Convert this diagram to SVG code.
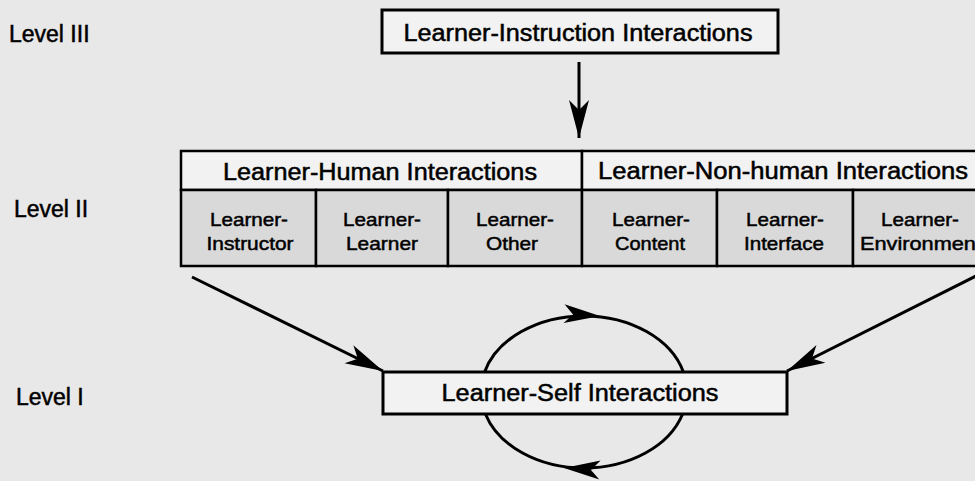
<svg xmlns="http://www.w3.org/2000/svg" width="975" height="481" viewBox="0 0 975 481">
<style>
text{font-family:"Liberation Sans",Arial,sans-serif;fill:#000;stroke:#000;stroke-width:0.5}
.lvl{font-size:23px}
.big{font-size:23px;text-anchor:middle}
.sub{font-size:19px;text-anchor:middle}
.box{fill:#f2f2f2;stroke:#000;stroke-width:3}
.cell{fill:#d9d9d9;stroke:#000;stroke-width:2.5}
.hdr{fill:#f2f2f2;stroke:#000;stroke-width:2.5}
.ln{fill:none;stroke:#000;stroke-width:3}
.hd{fill:#000}
</style>
<defs>
<marker id="ah" markerUnits="userSpaceOnUse" viewBox="-40 -12 42 24" refX="0" refY="0" markerWidth="42" markerHeight="24" orient="auto">
<path d="M0,0 L-38,-10 L-28,0 L-38,10 Z" fill="#000"/>
</marker>
</defs>
<rect width="975" height="481" fill="#e8e8e8"/>

<g id="levels">
<text class="lvl" x="9" y="42">Level III</text>
<text class="lvl" x="14" y="217">Level II</text>
<text class="lvl" x="16" y="405">Level I</text>
</g>

<g id="learner-instruction">
<rect class="box" x="382" y="10" width="396" height="43"/>
<text class="big" x="578" y="41" textLength="349" lengthAdjust="spacingAndGlyphs">Learner-Instruction Interactions</text>
</g>

<g id="learner-human">
<rect class="hdr" x="181" y="151" width="401" height="39"/>
<text class="big" x="380" y="180" textLength="314" lengthAdjust="spacingAndGlyphs">Learner-Human Interactions</text>
</g>
<g id="learner-nonhuman">
<rect class="hdr" x="582" y="151" width="410" height="39"/>
<text class="big" x="783" y="179" textLength="370" lengthAdjust="spacingAndGlyphs">Learner-Non-human Interactions</text>
</g>

<g id="learner-instructor">
<rect class="cell" x="181" y="190" width="135" height="76"/>
<text class="sub" x="249" y="226" textLength="78" lengthAdjust="spacingAndGlyphs">Learner-</text>
<text class="sub" x="250" y="250" textLength="87" lengthAdjust="spacingAndGlyphs">Instructor</text>
</g>
<g id="learner-learner">
<rect class="cell" x="316" y="190" width="132" height="76"/>
<text class="sub" x="382" y="226" textLength="78" lengthAdjust="spacingAndGlyphs">Learner-</text>
<text class="sub" x="382" y="250" textLength="72" lengthAdjust="spacingAndGlyphs">Learner</text>
</g>
<g id="learner-other">
<rect class="cell" x="448" y="190" width="134" height="76"/>
<text class="sub" x="515" y="226" textLength="78" lengthAdjust="spacingAndGlyphs">Learner-</text>
<text class="sub" x="512" y="250" textLength="52" lengthAdjust="spacingAndGlyphs">Other</text>
</g>
<g id="learner-content">
<rect class="cell" x="582" y="190" width="135" height="76"/>
<text class="sub" x="651" y="226" textLength="78" lengthAdjust="spacingAndGlyphs">Learner-</text>
<text class="sub" x="650" y="250" textLength="70" lengthAdjust="spacingAndGlyphs">Content</text>
</g>
<g id="learner-interface">
<rect class="cell" x="717" y="190" width="136" height="76"/>
<text class="sub" x="785" y="226" textLength="78" lengthAdjust="spacingAndGlyphs">Learner-</text>
<text class="sub" x="784" y="250" textLength="80" lengthAdjust="spacingAndGlyphs">Interface</text>
</g>
<g id="learner-environment">
<rect class="cell" x="853" y="190" width="139" height="76"/>
<text class="sub" x="920" y="226" textLength="78" lengthAdjust="spacingAndGlyphs">Learner-</text>
<text class="sub" x="921" y="250" textLength="122" lengthAdjust="spacingAndGlyphs">Environment</text>
</g>

<g id="learner-self">
<rect class="box" x="383" y="372" width="404" height="42"/>
<text class="big" x="580" y="401" font-size="24" textLength="277" lengthAdjust="spacingAndGlyphs">Learner-Self Interactions</text>
</g>

<g id="connectors">
<line class="ln" x1="579" y1="62" x2="579" y2="138" marker-end="url(#ah)"/>
<line class="ln" x1="192" y1="277" x2="383" y2="371" marker-end="url(#ah)"/>
<line class="ln" x1="982" y1="273" x2="787" y2="371" marker-end="url(#ah)"/>
<path class="ln" d="M484.6,372 A103,76 0 0 1 683.4,372"/>
<path class="ln" d="M682.6,414 A103,76 0 0 1 485.4,414"/>
<path class="hd" d="M0,0 L-36,-10 L-27,0 L-36,9 Z" transform="translate(600,316) rotate(3)"/>
<path class="hd" d="M0,0 L-36,-9 L-27,0 L-36,10 Z" transform="translate(564,468) rotate(184)"/>
</g>
</svg>
